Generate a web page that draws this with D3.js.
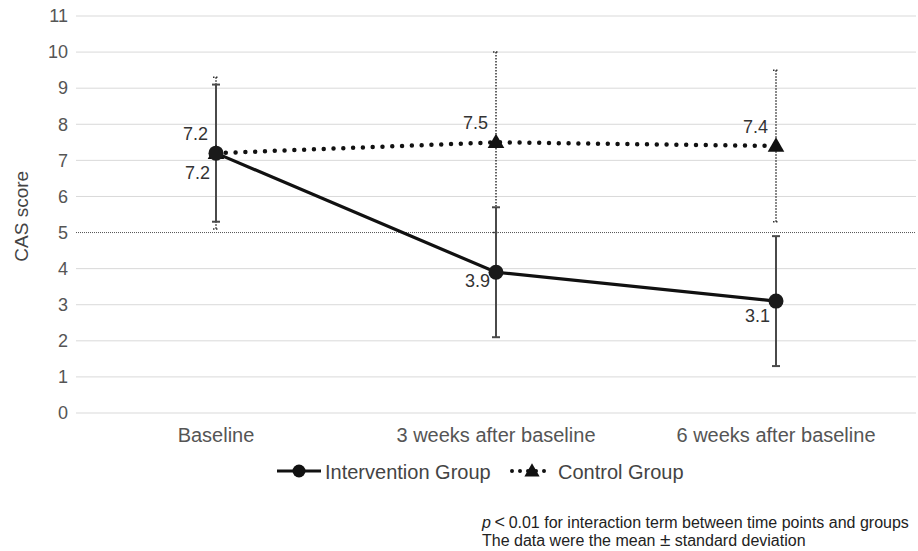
<!DOCTYPE html>
<html>
<head>
<meta charset="utf-8">
<script src="https://cdn.jsdelivr.net/npm/d3@7"></script>
<style>
  body { margin: 0; background: #fff; }
  text { font-family: "Liberation Sans", Arial, sans-serif; }
</style>
</head>
<body>
<svg id="chart" width="918" height="551"></svg>
<script>
const categories = ['Baseline', '3 weeks after baseline', '6 weeks after baseline'];
const interventionMean = [7.2, 3.9, 3.1];
const interventionSD = [1.9, 1.8, 1.8];
const controlMean = [7.2, 7.5, 7.4];
const controlSD = [2.1, 2.5, 2.1];
const yTicks = [0, 1, 2, 3, 4, 5, 6, 7, 8, 9, 10, 11];
const thresholdValue = 5;
const noteLines = ['for interaction term between time points and groups', 'The data were the mean', 'standard deviation'];

const svg = d3.select('#chart');
const margin = { top: 16, right: 2, bottom: 138, left: 76 };
const width = 918 - margin.left - margin.right;
const height = 551 - margin.top - margin.bottom;
const FONT = '"Liberation Sans", Arial, sans-serif';

const x = d3.scaleBand().domain(categories).range([margin.left, margin.left + width]);
const y = d3.scaleLinear().domain([0, 11]).range([margin.top + height, margin.top]);
const cx = d => x(d) + x.bandwidth() / 2;

// gridlines (5 is drawn as a dotted reference line)
svg.append('g')
  .selectAll('line')
  .data(yTicks)
  .enter()
  .append('line')
  .attr('x1', margin.left)
  .attr('x2', margin.left + width)
  .attr('y1', d => y(d))
  .attr('y2', d => y(d))
  .attr('stroke', d => d === thresholdValue ? '#555' : '#d9d9d9')
  .attr('stroke-width', 1)
  .attr('stroke-dasharray', d => d === thresholdValue ? '1,1' : null);

// y axis labels
const yAxis = svg.append('g')
  .attr('transform', `translate(${margin.left},0)`)
  .call(d3.axisLeft(y).tickValues(yTicks).tickSize(0).tickPadding(8));
yAxis.select('.domain').remove();
yAxis.selectAll('text').attr('font-size', 18).attr('fill', '#555').attr('font-family', FONT);

// x axis labels
const xAxis = svg.append('g')
  .attr('transform', `translate(0,${margin.top + height})`)
  .call(d3.axisBottom(x).tickSize(0).tickPadding(15));
xAxis.select('.domain').remove();
xAxis.selectAll('text').attr('font-size', 20).attr('fill', '#555').attr('font-family', FONT);

svg.append('text')
  .attr('transform', `translate(28,${y(5.45)}) rotate(-90)`)
  .attr('text-anchor', 'middle')
  .attr('font-size', 19)
  .attr('fill', '#444')
  .text('CAS score');

const ctrl = categories.map((c, i) => ({ c, m: controlMean[i], sd: controlSD[i] }));
const intv = categories.map((c, i) => ({ c, m: interventionMean[i], sd: interventionSD[i] }));

// control error bars (dotted)
const ctrlErr = svg.append('g').attr('stroke', '#333').attr('stroke-width', 1.5).attr('stroke-dasharray', '1.5,1.5');
ctrl.forEach(d => {
  ctrlErr.append('line').attr('x1', cx(d.c)).attr('x2', cx(d.c))
    .attr('y1', y(d.m + d.sd)).attr('y2', y(d.m - d.sd));
  [d.m + d.sd, d.m - d.sd].forEach(v => {
    ctrlErr.append('line').attr('x1', cx(d.c) - 3).attr('x2', cx(d.c) + 3)
      .attr('y1', y(v)).attr('y2', y(v));
  });
});

// intervention error bars
const intvErr = svg.append('g').attr('stroke', '#4a4a4a').attr('stroke-width', 2);
intv.forEach(d => {
  intvErr.append('line').attr('x1', cx(d.c)).attr('x2', cx(d.c))
    .attr('y1', y(d.m + d.sd)).attr('y2', y(d.m - d.sd));
  [d.m + d.sd, d.m - d.sd].forEach(v => {
    intvErr.append('line').attr('x1', cx(d.c) - 4).attr('x2', cx(d.c) + 4)
      .attr('y1', y(v)).attr('y2', y(v));
  });
});

const line = d3.line().x(d => cx(d.c)).y(d => y(d.m));

// control line
svg.append('path')
  .datum(ctrl)
  .attr('d', line)
  .attr('fill', 'none')
  .attr('stroke', '#111')
  .attr('stroke-width', 4.5)
  .attr('stroke-linecap', 'round')
  .attr('stroke-dasharray', '0,9.8');

// intervention line
svg.append('path')
  .datum(intv)
  .attr('d', line)
  .attr('fill', 'none')
  .attr('stroke', '#111')
  .attr('stroke-width', 3.2);

const tri = d3.symbol().type(d3.symbolTriangle).size(120);
svg.append('g').selectAll('path')
  .data(ctrl)
  .enter()
  .append('path')
  .attr('d', tri)
  .attr('transform', d => `translate(${cx(d.c)},${y(d.m) + 1})`)
  .attr('fill', '#111');

svg.append('g').selectAll('circle')
  .data(intv)
  .enter()
  .append('circle')
  .attr('cx', d => cx(d.c))
  .attr('cy', d => y(d.m))
  .attr('r', 7.5)
  .attr('fill', '#1a1a1a');

// data labels
svg.append('g').selectAll('text')
  .data(ctrl)
  .enter()
  .append('text')
  .attr('x', d => cx(d.c) - 8)
  .attr('y', d => y(d.m) - 13)
  .attr('text-anchor', 'end')
  .attr('font-size', 18)
  .attr('fill', '#333')
  .text(d => d.m.toFixed(1));

const intvLabelDy = [26, 15, 21];
svg.append('g').selectAll('text')
  .data(intv)
  .enter()
  .append('text')
  .attr('x', d => cx(d.c) - 6)
  .attr('y', (d, i) => y(d.m) + intvLabelDy[i])
  .attr('text-anchor', 'end')
  .attr('font-size', 18)
  .attr('fill', '#333')
  .text(d => d.m.toFixed(1));

// legend
const legend = svg.append('g').attr('transform', 'translate(0,471)');
legend.append('line').attr('x1', 277).attr('x2', 321).attr('y1', 0).attr('y2', 0)
  .attr('stroke', '#111').attr('stroke-width', 3);
legend.append('circle').attr('cx', 299).attr('cy', 0).attr('r', 6.5).attr('fill', '#111');
legend.append('text').attr('x', 325).attr('y', 8).attr('font-size', 20).attr('fill', '#444')
  .text('Intervention Group');

legend.append('line').attr('x1', 512).attr('x2', 552).attr('y1', 0).attr('y2', 0)
  .attr('stroke', '#111').attr('stroke-width', 4).attr('stroke-linecap', 'round')
  .attr('stroke-dasharray', '0,8');
legend.append('path').attr('d', d3.symbol().type(d3.symbolTriangle).size(100))
  .attr('transform', 'translate(532,1)').attr('fill', '#111');
legend.append('text').attr('x', 558).attr('y', 8).attr('font-size', 20).attr('fill', '#444')
  .text('Control Group');

// note
const note = svg.append('g').attr('font-size', 16).attr('fill', '#222');
const t1 = note.append('text').attr('x', 482).attr('y', 528);
t1.append('tspan').attr('font-style', 'italic').text('p');
t1.append('tspan').attr('font-size', 18).text('\u2009<\u2009');
t1.append('tspan').text('0.01 ' + noteLines[0]);
const t2 = note.append('text').attr('x', 482).attr('y', 546);
t2.append('tspan').text(noteLines[1] + ' ');
t2.append('tspan').attr('font-size', 19).text('\u00b1');
t2.append('tspan').text(' ' + noteLines[2]);
</script>
</body>
</html>
